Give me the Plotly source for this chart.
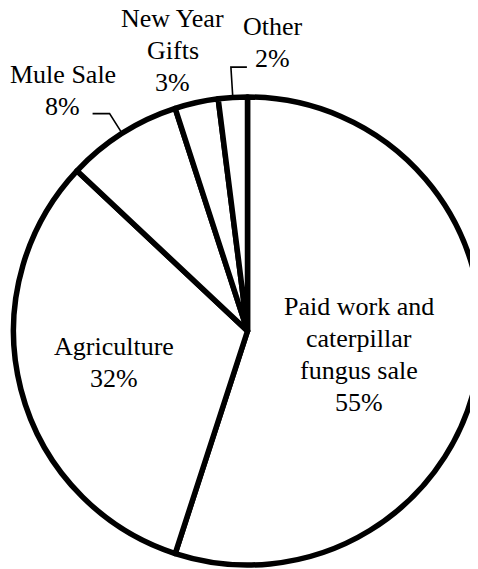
import math
import plotly.graph_objects as go

# ---- data ----
categories = [["Paid work and", "caterpillar", "fungus sale"], ["Agriculture"], ["Mule Sale"],
              ["New Year", "Gifts"], ["Other"]]
values = [55, 32, 8, 3, 2]

# ---- layout / style constants ----
W, H = 478, 569
PAGE_OFF = 8                       # default body margin of the html page
CX, CY, R = 247.5 - PAGE_OFF, 331 - PAGE_OFF, 234   # pie centre / radius (figure px)
FONT = "Liberation Serif"
FS = 26
LINE_GAP = 32
BASE_TO_MID = 0.3375 * FS          # baseline -> middle of text box
# label placement per slice: (radius factor, angle offset in degrees)
label_place = [(0.496, 7.0), (0.596, -2.3), (1.267, -6.1), (1.206, -2.75), (1.202, 8.8)]
# leader lines: None or (elbow radius factor, tail direction, tail length px)
leaders = [None, None, (1.10, -1, 17), None, (1.13, 1, 16)]


def px_to_paper(x, y):
    return x / W, 1 - y / H


def polar(theta_deg, rad):
    t = math.radians(theta_deg)
    return CX + rad * math.sin(t), CY - rad * math.cos(t)


fig = go.Figure(go.Pie(
    labels=[" ".join(c) for c in categories],
    values=values,
    sort=False,
    direction="clockwise",
    rotation=0,
    textinfo="none",
    hoverinfo="label+percent",
    marker=dict(colors=["white"] * len(values), line=dict(color="black", width=5.5)),
    domain=dict(x=[max(0.0, (CX - R) / W), min(1.0, (CX + R) / W)],
                y=[max(0.0, 1 - (CY + R) / H), min(1.0, 1 - (CY - R) / H)]),
    showlegend=False,
))

total = sum(values)
cum = 0
annotations = []
shapes = []
for cat, v, (rf, off), ld in zip(categories, values, label_place, leaders):
    mid = (cum + v / 2) / total * 360
    cum += v
    lx, ly = polar(mid + off, R * rf)
    pct = round(v / total * 100)
    lines = cat + [f"{pct}%"]
    n = len(lines)
    for i, line in enumerate(lines):
        base = ly + (i - (n - 1) / 2) * LINE_GAP
        px, py = px_to_paper(lx, base - BASE_TO_MID)
        annotations.append(dict(
            x=px, y=py, xref="paper", yref="paper", showarrow=False,
            text=line, xanchor="center", yanchor="middle",
            font=dict(family=FONT, size=FS, color="black")))
    if ld is not None:
        ef, d, tail = ld
        x0, y0 = polar(mid, R)
        x1, y1 = polar(mid, R * ef)
        x2, y2 = x1 + d * tail, y1
        pts = [px_to_paper(*p) for p in [(x0, y0), (x1, y1), (x2, y2)]]
        path = "M {} {} L {} {} L {} {}".format(*[c for p in pts for c in p])
        shapes.append(dict(type="path", path=path, xref="paper", yref="paper",
                           line=dict(color="black", width=1.6)))

fig.update_layout(
    width=W, height=H,
    margin=dict(l=0, r=0, t=0, b=0),
    paper_bgcolor="white", plot_bgcolor="white",
    annotations=annotations, shapes=shapes,
    font=dict(family=FONT, size=FS, color="black"),
)

fig.write_html("out.html")
